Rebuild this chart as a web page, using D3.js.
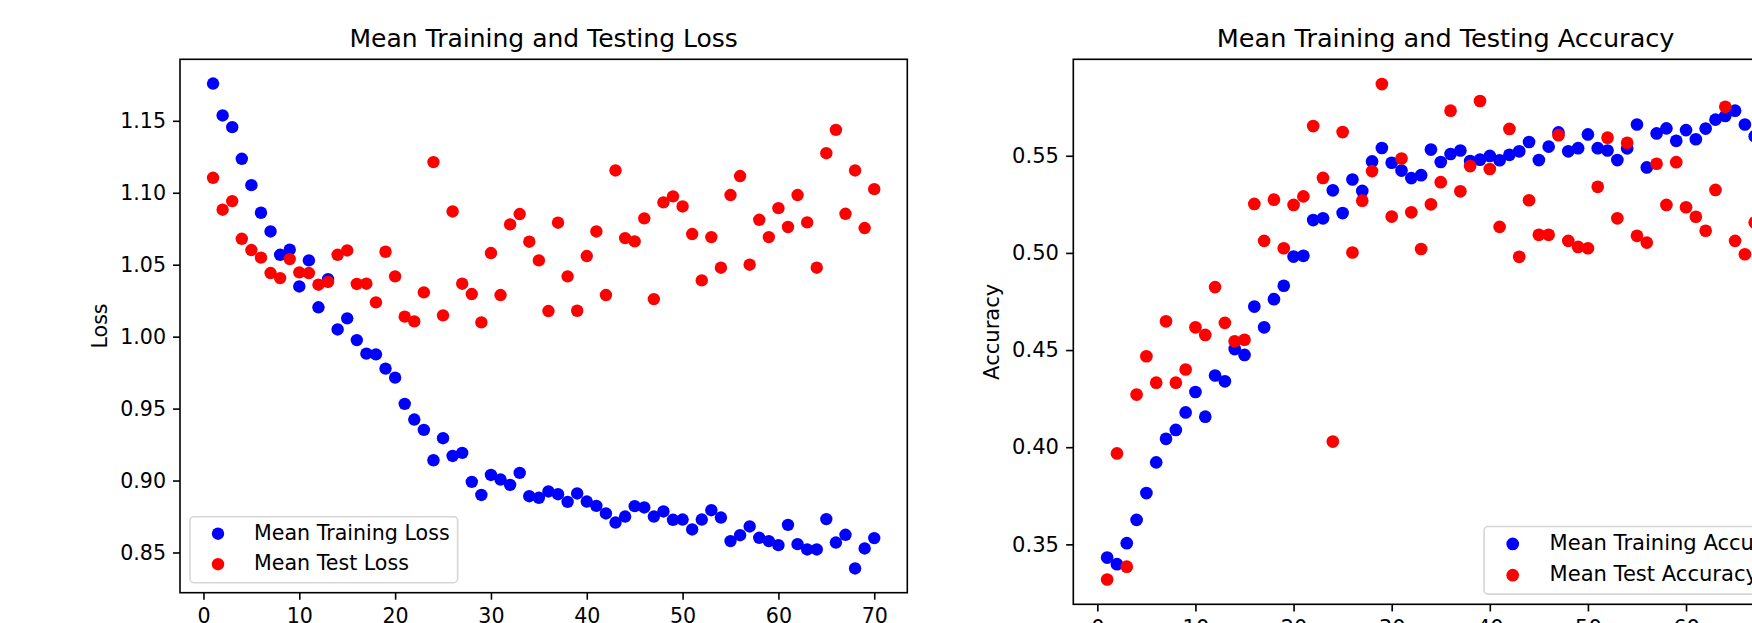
<!DOCTYPE html>
<html>
<head>
<meta charset="utf-8">
<script src="https://cdn.jsdelivr.net/npm/d3@7"></script>
<style>
  html, body { margin: 0; padding: 0; background: #fff; overflow: hidden; }
  svg { display: block; font-family: "DejaVu Sans", sans-serif; }
</style>
</head>
<body>
<svg id="chart" width="1752" height="623"></svg>
<script>
/* x values: training epochs */
const epochs = [
  1, 2, 3, 4, 5, 6, 7, 8, 9, 10, 11, 12, 13, 14, 15, 16, 17, 18, 19, 20,
  21, 22, 23, 24, 25, 26, 27, 28, 29, 30, 31, 32, 33, 34, 35, 36, 37, 38, 39, 40,
  41, 42, 43, 44, 45, 46, 47, 48, 49, 50, 51, 52, 53, 54, 55, 56, 57, 58, 59, 60,
  61, 62, 63, 64, 65, 66, 67, 68, 69, 70,
];

/* loss panel */
const trainLoss = [
  1.1759, 1.1537, 1.1456, 1.1236, 1.1053, 1.0861, 1.0731, 1.0569, 1.0604, 1.0349,
  1.0530, 1.0204, 1.0400, 1.0050, 1.0127, 0.9976, 0.9882, 0.9877, 0.9778, 0.9715,
  0.9533, 0.9424, 0.9352, 0.9141, 0.9294, 0.9171, 0.9192, 0.8991, 0.8900, 0.9039,
  0.9007, 0.8970, 0.9053, 0.8891, 0.8880, 0.8924, 0.8905, 0.8852, 0.8910, 0.8854,
  0.8824, 0.8771, 0.8708, 0.8750, 0.8822, 0.8813, 0.8750, 0.8785, 0.8727, 0.8729,
  0.8660, 0.8729, 0.8794, 0.8743, 0.8579, 0.8620, 0.8681, 0.8602, 0.8579, 0.8551,
  0.8692, 0.8558, 0.8521, 0.8521, 0.8732, 0.8569, 0.8623, 0.8389, 0.8528, 0.8600,
];
const testLoss = [
  1.1104, 1.0882, 1.0942, 1.0680, 1.0602, 1.0549, 1.0442, 1.0407, 1.0539, 1.0447,
  1.0442, 1.0361, 1.0380, 1.0569, 1.0599, 1.0366, 1.0368, 1.0238, 1.0590, 1.0419,
  1.0139, 1.0106, 1.0308, 1.1213, 1.0148, 1.0870, 1.0368, 1.0296, 1.0099, 1.0581,
  1.0289, 1.0780, 1.0852, 1.0660, 1.0530, 1.0178, 1.0792, 1.0419, 1.0180, 1.0560,
  1.0731, 1.0289, 1.1155, 1.0685, 1.0662, 1.0822, 1.0261, 1.0933, 1.0975, 1.0905,
  1.0713, 1.0391, 1.0692, 1.0479, 1.0984, 1.1116, 1.0500, 1.0812, 1.0692, 1.0893,
  1.0762, 1.0984, 1.0794, 1.0479, 1.1275, 1.1437, 1.0854, 1.1155, 1.0755, 1.1025,
];

/* accuracy panel (last epochs fall outside the picture, estimated) */
const trainAcc = [
  0.3432, 0.3398, 0.3506, 0.3626, 0.3764, 0.3922, 0.4043, 0.4089, 0.4179, 0.4284,
  0.4157, 0.4369, 0.4339, 0.4505, 0.4475, 0.4724, 0.4617, 0.4762, 0.4831, 0.4981,
  0.4985, 0.5169, 0.5178, 0.5322, 0.5205, 0.5378, 0.5319, 0.5471, 0.5540, 0.5464,
  0.5424, 0.5385, 0.5400, 0.5532, 0.5468, 0.5509, 0.5527, 0.5473, 0.5480, 0.5499,
  0.5477, 0.5505, 0.5523, 0.5571, 0.5478, 0.5547, 0.5620, 0.5523, 0.5539, 0.5610,
  0.5539, 0.5527, 0.5478, 0.5538, 0.5661, 0.5440, 0.5615, 0.5641, 0.5577, 0.5632,
  0.5585, 0.5640, 0.5686, 0.5705, 0.5732, 0.5661, 0.5601, 0.5650, 0.5630, 0.5670,
];
const testAcc = [
  0.3319, 0.3968, 0.3385, 0.4271, 0.4468, 0.4332, 0.4648, 0.4332, 0.4400, 0.4617,
  0.4578, 0.4824, 0.4640, 0.4545, 0.4553, 0.5252, 0.5062, 0.5274, 0.5024, 0.5247,
  0.5291, 0.5653, 0.5386, 0.4029, 0.5622, 0.5002, 0.5269, 0.5421, 0.5869, 0.5187,
  0.5486, 0.5209, 0.5020, 0.5250, 0.5364, 0.5732, 0.5317, 0.5447, 0.5782, 0.5432,
  0.5134, 0.5638, 0.4980, 0.5271, 0.5093, 0.5093, 0.5606, 0.5062, 0.5031, 0.5024,
  0.5340, 0.5593, 0.5178, 0.5567, 0.5088, 0.5053, 0.5459, 0.5247, 0.5467, 0.5235,
  0.5186, 0.5114, 0.5324, 0.5752, 0.5062, 0.4993, 0.5157, 0.5250, 0.5200, 0.5120,
];

/* tick labels */
const epochTicks = [0, 10, 20, 30, 40, 50, 60, 70];
const lossTicks = [0.85, 0.90, 0.95, 1.00, 1.05, 1.10, 1.15];
const accTicks = [0.35, 0.40, 0.45, 0.50, 0.55];

const svg = d3.select('#chart');

// same 5% data margin as matplotlib autoscale
const padded = (values) => {
  const [lo, hi] = d3.extent(values);
  const m = (hi - lo) * 0.05;
  return [lo - m, hi + m];
};

function drawPanel(p) {
  const k = p.k;
  const fs = 20.6 * k;
  const g = svg.append('g').attr('transform', `translate(${p.left},${p.top})`);

  const x = d3.scaleLinear().domain(padded(epochs)).range([0, p.width]);
  const y = d3.scaleLinear().domain(padded(p.train.concat(p.test))).range([p.height, 0]);

  /* axes */
  const xAxis = g.append('g')
    .attr('transform', `translate(0,${p.height})`)
    .call(d3.axisBottom(x).tickValues(epochTicks).tickSize(7 * k).tickPadding(7 * k)
      .tickFormat(d3.format('d')));
  const yAxis = g.append('g')
    .call(d3.axisLeft(y).tickValues(p.yTicks).tickSize(7 * k).tickPadding(7 * k)
      .tickFormat(d3.format('.2f')));
  [xAxis, yAxis].forEach((a) => {
    a.select('.domain').remove();
    a.selectAll('line').attr('stroke', '#000').attr('stroke-width', 1.6 * k);
    a.selectAll('text')
      .attr('font-size', fs)
      .attr('font-family', '"DejaVu Sans", sans-serif')
      .attr('fill', '#000');
  });
  xAxis.selectAll('text').attr('dy', '0.79em');

  /* scatter: train first, test drawn over it */
  const series = [
    { values: p.train, color: '#0000ff', label: p.labels[0] },
    { values: p.test, color: '#ff0000', label: p.labels[1] },
  ];
  series.forEach((s) => {
    g.append('g')
      .selectAll('circle')
      .data(s.values)
      .join('circle')
      .attr('cx', (d, i) => x(epochs[i]))
      .attr('cy', (d) => y(d))
      .attr('r', 6.2 * k)
      .attr('fill', s.color);
  });

  /* frame */
  g.append('rect')
    .attr('width', p.width)
    .attr('height', p.height)
    .attr('fill', 'none')
    .attr('stroke', '#000')
    .attr('stroke-width', 1.6 * k);

  /* title */
  g.append('text')
    .attr('x', p.width / 2)
    .attr('y', -12.5 * k)
    .attr('text-anchor', 'middle')
    .attr('font-size', 25 * k)
    .attr('fill', '#000')
    .text(p.title);

  /* y label, left of the tick labels */
  const tickLeft = yAxis.node().getBBox().x;
  const lx = tickLeft - 8 * k - 0.236 * fs;
  g.append('text')
    .attr('transform', `translate(${lx},${p.height / 2}) rotate(-90)`)
    .attr('text-anchor', 'middle')
    .attr('font-size', fs)
    .attr('fill', '#000')
    .text(p.yLabel);

  /* legend */
  const lg = g.append('g');
  const boxH = 66 * k;
  const bottom = p.height - 10 * k;
  const rowY = [bottom - 49 * k, bottom - 18.5 * k];
  const texts = series.map((s, i) => lg.append('text')
    .attr('y', rowY[i] + 0.3 * fs)
    .attr('font-size', fs)
    .attr('fill', '#000')
    .text(s.label));
  const textW = d3.max(texts, (t) => t.node().getComputedTextLength());
  const boxW = 64 * k + textW + 8 * k;
  const boxX = p.legendRight ? p.width - 10 * k - boxW : 10 * k;
  texts.forEach((t) => t.attr('x', boxX + 64 * k));
  series.forEach((s, i) => {
    lg.append('circle')
      .attr('cx', boxX + 28 * k)
      .attr('cy', rowY[i])
      .attr('r', 6.2 * k)
      .attr('fill', s.color);
  });
  lg.insert('rect', ':first-child')
    .attr('x', boxX)
    .attr('y', bottom - boxH)
    .attr('width', boxW)
    .attr('height', boxH)
    .attr('rx', 4 * k)
    .attr('fill', '#fff')
    .attr('fill-opacity', 0.8)
    .attr('stroke', '#cccccc')
    .attr('stroke-opacity', 0.8)
    .attr('stroke-width', 1.6 * k);
}

drawPanel({
  left: 180, top: 59.3, width: 727.3, height: 533.4, k: 1,
  train: trainLoss,
  test: testLoss,
  yTicks: lossTicks,
  title: 'Mean Training and Testing Loss',
  yLabel: 'Loss',
  labels: ['Mean Training Loss', 'Mean Test Loss'],
  legendRight: false,
});

drawPanel({
  left: 1073.3, top: 59.3, width: 744.7, height: 545, k: 1.023,
  train: trainAcc,
  test: testAcc,
  yTicks: accTicks,
  title: 'Mean Training and Testing Accuracy',
  yLabel: 'Accuracy',
  labels: ['Mean Training Accuracy', 'Mean Test Accuracy'],
  legendRight: true,
});
</script>
</body>
</html>
